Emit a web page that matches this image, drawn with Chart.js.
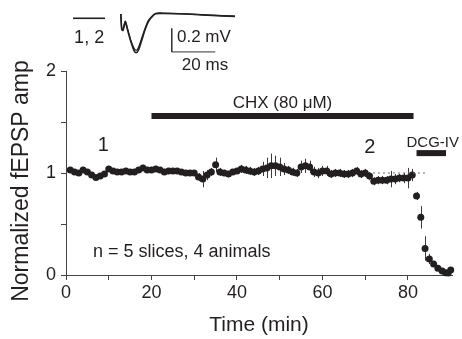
<!DOCTYPE html>
<html><head><meta charset="utf-8">
<script src="https://cdn.jsdelivr.net/npm/chart.js@4"></script>
<style>
html,body{margin:0;padding:0;background:#fff;}
#wrap{position:relative;width:462px;height:339px;overflow:hidden;}
#main{position:absolute;left:0;top:0;}
#inset{position:absolute;left:60px;top:0;}
</style></head><body>
<div id="wrap"><canvas id="main" width="462" height="339"></canvas><canvas id="inset" width="200" height="75"></canvas></div>
<script>
// ---- main plot data ----
const timeMin = [1,2,3,4,5,6,7,8,9,10,11,12,13,14,15,16,17,18,19,20,21,22,23,24,25,26,27,28,29,30,
  31,32,33,34,35,36,37,38,39,40,41,42,43,44,45,46,47,48,49,50,51,52,53,54,55,56,57,58,59,60,
  61,62,63,64,65,66,67,68,69,70,71,72,73,74,75,76,77,78,79,80,81,82,83,84,85,86,87,88,88.8,89.4,90];
const normAmp = [1.03,1.01,1.00,1.03,1.01,0.98,0.955,0.97,0.99,1.04,1.02,1.01,1.01,1.02,1.01,1.01,1.03,1.05,1.03,1.03,
  1.04,1.03,1.01,1.02,1.02,1.02,1.01,1.00,1.00,1.00,
  0.96,0.94,0.98,1.01,1.08,1.01,1.00,0.99,1.01,1.02,1.04,1.03,1.02,1.01,1.02,1.04,1.05,1.07,1.07,1.06,
  1.04,1.03,1.01,1.00,1.06,1.07,1.06,1.01,1.00,1.02,1.02,0.99,1.00,1.00,0.99,0.99,1.00,1.02,0.99,1.00,
  0.97,0.92,0.93,0.93,0.93,0.94,0.94,0.95,0.95,0.95,
  0.98,0.775,0.565,0.26,0.157,0.108,0.065,0.04,0.023,0.02,0.05];
const ampSem = [0.02,0.02,0.02,0.02,0.02,0.02,0.02,0.02,0.02,0.02,0.02,0.02,0.02,0.02,0.02,0.02,0.02,0.03,0.03,0.03,
  0.03,0.03,0.03,0.03,0.03,0.025,0.025,0.025,0.025,0.025,
  0.04,0.08,0.05,0.04,0.07,0.04,0.03,0.03,0.03,0.03,0.04,0.04,0.04,0.04,0.04,0.07,0.1,0.12,0.1,0.09,
  0.06,0.04,0.04,0.04,0.06,0.07,0.06,0.05,0.05,0.05,0.05,0.04,0.04,0.04,0.04,0.04,0.04,0.04,0.04,0.04,
  0.04,0.04,0.04,0.04,0.04,0.08,0.05,0.04,0.05,0.1,
  0.06,0.04,0.11,0.12,0.05,0.03,0.02,0.02,0.02,0.02,0.02];
const chxTimes = [20, 81.3];
const chxLevel = [1.56, 1.56];
const dcgTimes = [82, 88.9];
const dcgLevel = [1.195, 1.195];
const refTimes = [71.8, 84.4];
const refLevel = [1, 1];
const xTickLabels = [0, 20, 40, 60, 80];
const yTickLabels = [0, 1, 2];

// ---- inset trace data (ms, mV) ----
const traceMs  = [0, 0.4, 1.0, 2.0, 3.0, 4.5, 6.0, 7.0, 8.0, 9.5, 11.0, 12.5, 14, 16, 20, 30, 40, 52.5];
const trace1mV = [0.01,-0.12,-0.13,-0.06,-0.12,-0.22,-0.30,-0.32,-0.30,-0.22,-0.13,-0.06,-0.02,0.012,0.015,0.01,0.0,-0.01];
const trace2mV = [0.01,-0.11,-0.12,-0.05,-0.11,-0.21,-0.28,-0.30,-0.28,-0.20,-0.12,-0.05,-0.015,0.016,0.018,0.012,0.003,-0.008];
const scaleBarMs = [23.4, 23.4, 43.4];
const scaleBarMv = [-0.113, -0.313, -0.313];
const legendMs = [-22, -7.3];
const legendMv = [-0.026, -0.026];

const FONT = '"Liberation Sans", Arial, Helvetica, sans-serif';
const INK = '#231f20';
const pts = (xs, ys) => xs.map((x, i) => ({x: x, y: ys[i]}));

// annotation text (placed in data units through the scales)
const mainNotes = [
  {text: '1', x: 8.7, y: 1.216, size: 20, align: 'center'},
  {text: '2', x: 71.1, y: 1.196, size: 20, align: 'center'},
  {text: 'CHX (80 \u03BCM)', x: 50.65, y: 1.637, size: 17, align: 'center'},
  {text: 'DCG-IV', x: 85.8, y: 1.255, size: 15, align: 'center'},
  {text: 'n = 5 slices, 4 animals', x: 6.3, y: 0.176, size: 18, align: 'left'}
];
const insetNotes = [
  {text: '1, 2', x: -14.6, y: -0.241, size: 18, align: 'center'},
  {text: '0.2 mV', x: 25.8, y: -0.228, size: 17, align: 'left'},
  {text: '20 ms', x: 38.7, y: -0.469, size: 17, align: 'center'}
];
const yTitle = {text: 'Normalized fEPSP amp', size: 23, x: 22, shift: 8};

function notePlugin(notes) {
  return {
    id: 'notes',
    afterDatasetsDraw(chart) {
      const {ctx, scales: {x, y}} = chart;
      ctx.save();
      ctx.fillStyle = INK;
      ctx.textBaseline = 'alphabetic';
      notes.forEach(n => {
        ctx.font = n.size + 'px ' + FONT;
        ctx.textAlign = n.align;
        ctx.fillText(n.text, x.getPixelForValue(n.x), y.getPixelForValue(n.y));
      });
      ctx.restore();
    }
  };
}

const yTitlePlugin = {
  id: 'ytitle',
  afterDraw(chart) {
    const {ctx, chartArea} = chart;
    ctx.save();
    ctx.translate(yTitle.x, (chartArea.top + chartArea.bottom) / 2 + yTitle.shift);
    ctx.rotate(-Math.PI / 2);
    ctx.fillStyle = INK;
    ctx.font = yTitle.size + 'px ' + FONT;
    ctx.textAlign = 'center';
    ctx.textBaseline = 'middle';
    ctx.fillText(yTitle.text, 0, 0);
    ctx.restore();
  }
};

const errPlugin = {
  id: 'errbars',
  beforeDatasetsDraw(chart) {
    const {ctx, scales: {x, y}} = chart;
    ctx.save();
    ctx.strokeStyle = '#3a3a3a';
    ctx.lineWidth = 1;
    timeMin.forEach((t, i) => {
      const px = Math.round(x.getPixelForValue(t)) + 0.5;
      ctx.beginPath();
      ctx.moveTo(px, y.getPixelForValue(normAmp[i] - ampSem[i]));
      ctx.lineTo(px, y.getPixelForValue(normAmp[i] + ampSem[i]));
      ctx.stroke();
    });
    ctx.restore();
  }
};

new Chart(document.getElementById('main'), {
  type: 'scatter',
  data: {
    datasets: [
      {data: pts(refTimes, refLevel), showLine: true, borderColor: '#666', borderWidth: 1, borderDash: [2, 3],
       pointRadius: 0, clip: false},
      {data: pts(timeMin, normAmp), showLine: false, pointRadius: 3.5, backgroundColor: INK,
       borderWidth: 0, pointHoverRadius: 3.5, clip: false},
      {data: pts(chxTimes, chxLevel), showLine: true, borderColor: INK, borderWidth: 6, pointRadius: 0,
       borderCapStyle: 'butt', clip: false},
      {data: pts(dcgTimes, dcgLevel), showLine: true, borderColor: INK, borderWidth: 6, pointRadius: 0,
       borderCapStyle: 'butt', clip: false}
    ]
  },
  options: {
    responsive: false, animation: false, devicePixelRatio: 1,
    layout: {padding: {left: 0, right: 10, top: 71, bottom: 0}},
    plugins: {legend: {display: false}, tooltip: {enabled: false}},
    scales: {
      x: {
        type: 'linear', min: 0, max: 90.3,
        afterFit(s) { s.height = 64; },
        afterBuildTicks(s) { s.ticks = s.ticks.filter(t => t.value <= 85); },
        ticks: {stepSize: 10, autoSkip: false, maxRotation: 0, padding: 2, color: INK,
                font: {family: FONT, size: 18},
                callback: v => xTickLabels.includes(v) ? String(v) : ''},
        grid: {drawOnChartArea: false, drawTicks: true, tickLength: 5, color: '#444', lineWidth: 1},
        border: {display: true, color: '#444', width: 1},
        title: {display: true, text: 'Time (min)', color: INK, font: {family: FONT, size: 21},
                padding: {top: 0, bottom: 1}}
      },
      y: {
        type: 'linear', min: 0, max: 2,
        afterFit(s) { s.width = 66; },
        ticks: {stepSize: 0.5, autoSkip: false, padding: 5, color: INK,
                font: {family: FONT, size: 18},
                callback: v => yTickLabels.includes(v) ? String(v) : ''},
        grid: {drawOnChartArea: false, drawTicks: true, tickLength: 5, color: '#444', lineWidth: 1},
        border: {display: true, color: '#444', width: 1},
        title: {display: false}
      }
    }
  },
  plugins: [errPlugin, notePlugin(mainNotes), yTitlePlugin]
});

new Chart(document.getElementById('inset'), {
  type: 'scatter',
  data: {
    datasets: [
      {data: pts(traceMs, trace1mV), showLine: true, borderColor: INK, borderWidth: 1.6, pointRadius: 0,
       tension: 0.3, clip: false},
      {data: pts(traceMs, trace2mV), showLine: true, borderColor: INK, borderWidth: 1.3, pointRadius: 0,
       tension: 0.3, clip: false},
      {data: pts(scaleBarMs, scaleBarMv), showLine: true, borderColor: '#333', borderWidth: 1, pointRadius: 0,
       clip: false},
      {data: pts(legendMs, legendMv), showLine: true, borderColor: INK, borderWidth: 1.6, pointRadius: 0,
       clip: false}
    ]
  },
  options: {
    responsive: false, animation: false, devicePixelRatio: 1,
    layout: {padding: 0},
    plugins: {legend: {display: false}, tooltip: {enabled: false}},
    scales: {
      x: {type: 'linear', display: false, min: -28, max: 64},
      y: {type: 'linear', display: false, min: -0.51, max: 0.13}
    }
  },
  plugins: [notePlugin(insetNotes)]
});
</script>
</body></html>
